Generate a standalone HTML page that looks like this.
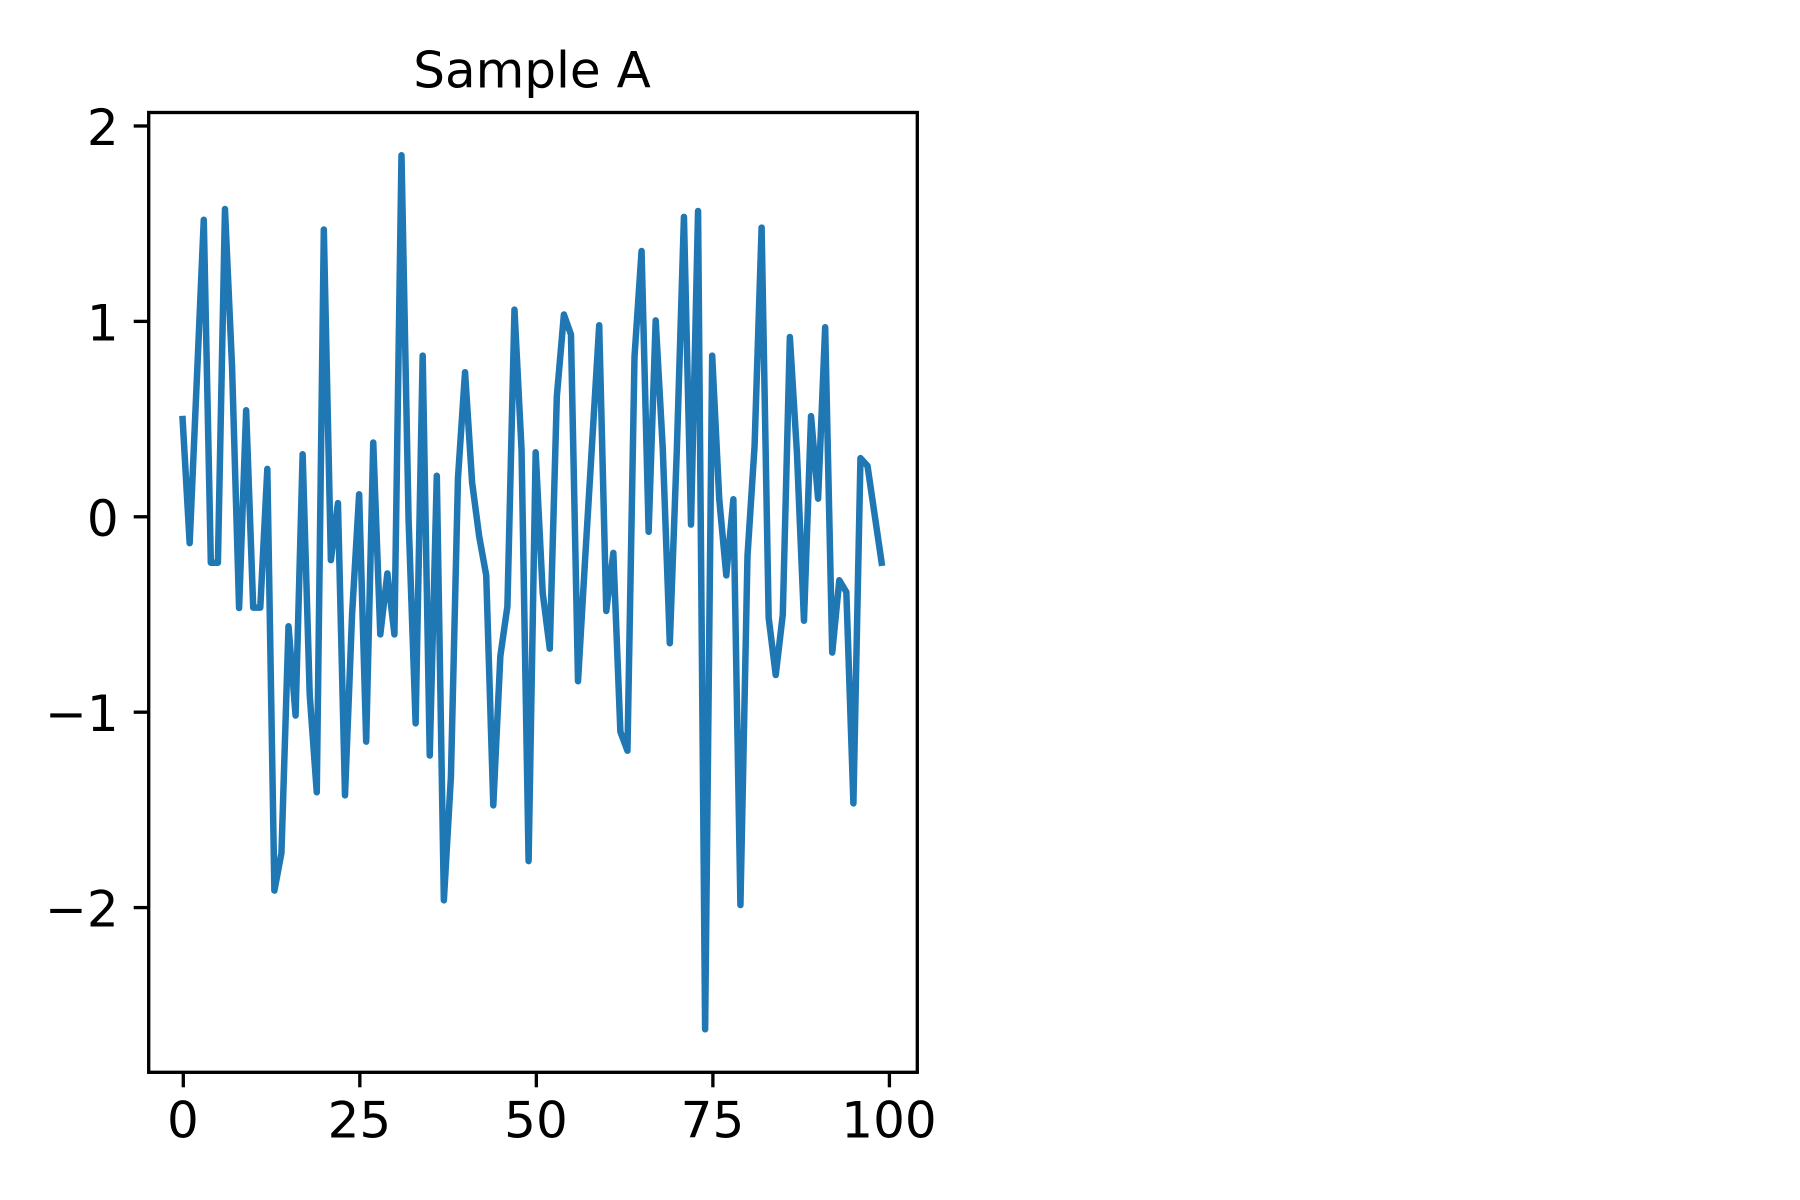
<!DOCTYPE html>
<html lang="en">
<head>
<meta charset="utf-8">
<title>Sample A</title>
<style>
  html, body { margin: 0; padding: 0; background: #ffffff; }
  body { width: 1800px; height: 1200px; overflow: hidden; }
  svg { display: block; }
  text { font-family: "DejaVu Sans", "Liberation Sans", sans-serif; fill: #000000; }
</style>
</head>
<body>
<svg id="chart" xmlns="http://www.w3.org/2000/svg" width="1800" height="1200" viewBox="0 0 1800 1200"></svg>
<script>
const sampleIndex = Array.from({ length: 100 }, (_, i) => i);
const sampleValues = [
  0.5, -0.135, 0.69, 1.52, -0.235, -0.235, 1.575, 0.77, -0.467, 0.545,
  -0.465, -0.465, 0.245, -1.913, -1.72, -0.56, -1.017, 0.32, -0.91, -1.41,
  1.47, -0.222, 0.07, -1.426, -0.5, 0.115, -1.151, 0.38, -0.602, -0.29,
  -0.602, 1.85, -0.01, -1.057, 0.825, -1.222, 0.21, -1.963, -1.33, 0.2,
  0.74, 0.176, -0.1, -0.3, -1.477, -0.713, -0.458, 1.06, 0.345, -1.762,
  0.33, -0.39, -0.675, 0.617, 1.035, 0.933, -0.842, -0.22, 0.38, 0.98,
  -0.482, -0.185, -1.1, -1.197, 0.82, 1.36, -0.077, 1.005, 0.35, -0.647,
  0.35, 1.535, -0.04, 1.565, -2.623, 0.825, 0.09, -0.3, 0.09, -1.987,
  -0.2, 0.36, 1.48, -0.517, -0.81, -0.5, 0.92, 0.33, -0.532, 0.515,
  0.093, 0.97, -0.695, -0.325, -0.385, -1.467, 0.3, 0.26, 0.012, -0.235
];
const xTickValues = [0, 25, 50, 75, 100];
const xTickLabels = ['0', '25', '50', '75', '100'];
const yTickValues = [-2, -1, 0, 1, 2];
const yTickLabels = ['\u22122', '\u22121', '0', '1', '2'];
const chartTitle = 'Sample A';

const plotLeft = 148.7, plotRight = 917.3, plotTop = 112.5, plotBottom = 1072.3;
const xDomainMin = -4.9, xDomainMax = 103.95;
const yDomainMin = -2.843, yDomainMax = 2.069;
const lineColor = '#1f77b4';
const lineNudgeX = -0.7;
const spineWidth = 3.33;
const tickLength = 15;
const labelFontSize = 50;

function xScale(v) {
  return plotLeft + (v - xDomainMin) / (xDomainMax - xDomainMin) * (plotRight - plotLeft);
}
function yScale(v) {
  return plotBottom - (v - yDomainMin) / (yDomainMax - yDomainMin) * (plotBottom - plotTop);
}

const svgNS = 'http://www.w3.org/2000/svg';
const chart = document.getElementById('chart');
function make(tag, attrs, parent) {
  const el = document.createElementNS(svgNS, tag);
  Object.keys(attrs).forEach(k => el.setAttribute(k, attrs[k]));
  parent.appendChild(el);
  return el;
}

const background = make('rect', { x: 0, y: 0, width: 1800, height: 1200, fill: '#ffffff' }, chart);



const series = make('polyline', {
  points: sampleValues.map((v, i) => (xScale(sampleIndex[i]) + lineNudgeX).toFixed(2) + ',' + yScale(v).toFixed(2)).join(' '),
  fill: 'none',
  stroke: lineColor,
  'stroke-width': 6.5,
  'stroke-linejoin': 'round',
  'stroke-linecap': 'square'
}, chart);



const spines = make('rect', {
  x: plotLeft,
  y: plotTop,
  width: plotRight - plotLeft,
  height: plotBottom - plotTop,
  fill: 'none',
  stroke: '#000000',
  'stroke-width': spineWidth,
  'stroke-linejoin': 'miter'
}, chart);



xTickValues.forEach((v, i) => {
  const px = xScale(v);
  const tick = make('line', { x1: px, x2: px, y1: plotBottom, y2: plotBottom + tickLength, stroke: '#000000', 'stroke-width': spineWidth }, chart);
  
  
  const label = make('text', { x: px - 0.4, y: 1137.5, 'text-anchor': 'middle', 'font-size': labelFontSize }, chart);
  label.textContent = xTickLabels[i];
  
  
});

yTickValues.forEach((v, i) => {
  const py = yScale(v);
  const tick = make('line', { x1: plotLeft - tickLength, x2: plotLeft, y1: py, y2: py, stroke: '#000000', 'stroke-width': spineWidth }, chart);
  
  
  const label = make('text', { x: 118.7, y: py + 19, 'text-anchor': 'end', 'font-size': labelFontSize }, chart);
  label.textContent = yTickLabels[i];
  
  
});

const title = make('text', { x: (plotLeft + plotRight) / 2 - 1, y: 87.7, 'text-anchor': 'middle', 'font-size': 50 }, chart);
title.textContent = chartTitle;


</script>
</body>
</html>
